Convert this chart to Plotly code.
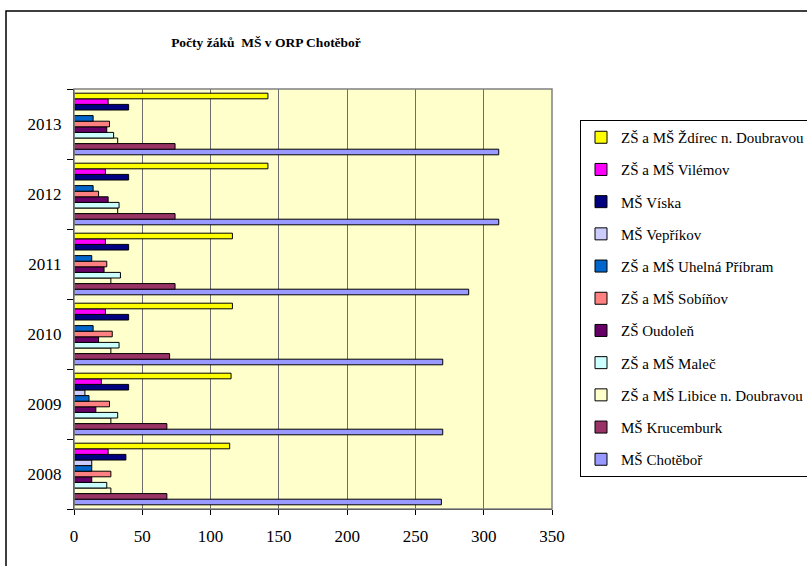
import plotly.graph_objects as go

years = ["2008", "2009", "2010", "2011", "2012", "2013"]

chotebor = [269, 270, 270, 289, 311, 311]
krucemburk = [68, 68, 70, 74, 74, 74]
libice = [27, 27, 27, 27, 32, 32]
malec = [24, 32, 33, 34, 33, 29]
oudolen = [13, 16, 18, 22, 25, 24]
sobinov = [27, 26, 28, 24, 18, 26]
uhelna = [13, 11, 14, 13, 14, 14]
veprikov = [13, 8, None, None, None, None]
viska = [38, 40, 40, 40, 40, 40]
vilemov = [25, 20, 23, 23, 23, 25]
zdirec = [114, 115, 116, 116, 142, 142]

series_names = [
    "MŠ Chotěboř", "MŠ Krucemburk", "ZŠ a MŠ Libice n. Doubravou", "ZŠ a MŠ Maleč",
    "ZŠ Oudoleň", "ZŠ a MŠ Sobíňov", "ZŠ a MŠ Uhelná Příbram", "MŠ Vepříkov",
    "MŠ Víska", "ZŠ a MŠ Vilémov", "ZŠ a MŠ Ždírec n. Doubravou",
]
series_values = [chotebor, krucemburk, libice, malec, oudolen, sobinov, uhelna,
                 veprikov, viska, vilemov, zdirec]
colors = ["#9999FF", "#993366", "#FFFFCC", "#CCFFFF", "#660066", "#FF8080",
          "#0066CC", "#CCCCFF", "#000080", "#FF00FF", "#FFFF00"]

x_ticks = [0, 50, 100, 150, 200, 250, 300, 350]

SERIF = "Liberation Serif, 'Times New Roman', DejaVu Serif, serif"

fig = go.Figure()
n = len(series_names)
for i, (name, vals) in enumerate(zip(series_names, series_values)):
    fig.add_trace(go.Bar(
        y=years, x=vals, name=name, orientation="h",
        marker=dict(color=colors[i], line=dict(color="black", width=1)),
        legendgroup=name, legendrank=100 + (n - i),
    ))

W, H = 807, 566
ml, mr, mt, mb = 74, 255, 89, 57
pw = W - ml - mr
ph = H - mt - mb

def px(x):
    return (x - ml) / pw

def py(y):
    return (H - mb - y) / ph

fig.update_layout(
    width=W, height=H,
    margin=dict(l=ml, r=mr, t=mt, b=mb, autoexpand=False),
    paper_bgcolor="white",
    plot_bgcolor="#FFFFCC",
    barmode="group",
    bargap=0.12,
    bargroupgap=0,
    font=dict(family=SERIF, color="black", size=16),
    title=dict(text="<b>Počty žáků  MŠ v ORP Chotěboř</b>",
               font=dict(size=13.5, family=SERIF),
               xref="container", x=266 / W, xanchor="center",
               yref="container", y=1 - 42 / H, yanchor="middle"),
    showlegend=True,
    legend=dict(
        x=px(580), xanchor="left", y=py(120), yanchor="top",
        traceorder="grouped", tracegroupgap=9.7,
        bordercolor="black", borderwidth=1, bgcolor="white",
        font=dict(size=15, family=SERIF),
    ),
    xaxis=dict(
        range=[0, 350], tickvals=x_ticks, ticktext=[str(v) for v in x_ticks],
        showgrid=True, gridcolor="#6E6E6E", gridwidth=1,
        showline=True, linecolor="black", linewidth=1,
        ticks="outside", ticklen=5, tickcolor="black",
        tickfont=dict(size=17, family=SERIF), zeroline=False, fixedrange=True,
        ticklabelstandoff=7,
    ),
    yaxis=dict(
        categoryorder="array", categoryarray=years,
        showline=True, linecolor="black", linewidth=1,
        ticks="outside", ticklen=6, tickcolor="black", tickson="boundaries",
        tickfont=dict(size=17, family=SERIF), showgrid=False, fixedrange=True,
        ticklabelstandoff=8,
    ),
    shapes=[
        dict(type="rect", xref="paper", yref="paper", x0=0, x1=1, y0=0, y1=1,
             line=dict(color="#808080", width=1.5), layer="above"),
        dict(type="rect", xref="paper", yref="paper",
             x0=px(6), x1=px(830), y0=py(590), y1=py(11),
             line=dict(color="black", width=1.5), layer="below"),
    ],
)

fig.write_html(
    "out.html",
    config={"displayModeBar": False},
    post_script="document.body.style.margin='0';document.body.style.overflow='hidden';",
)
